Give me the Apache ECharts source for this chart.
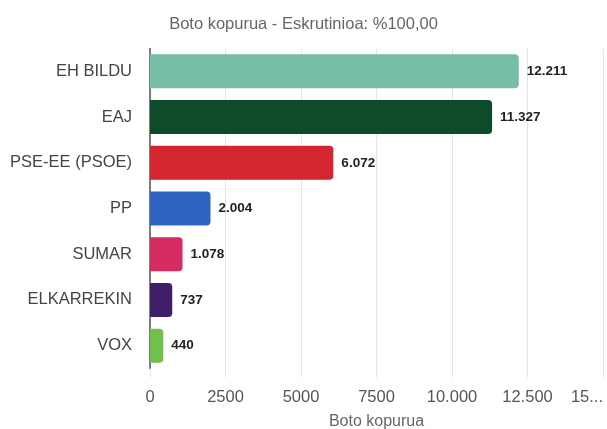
<!DOCTYPE html>
<html>
<head>
<meta charset="utf-8">
<script src="https://cdn.jsdelivr.net/npm/echarts@6/dist/echarts.min.js"></script>
<style>
  html, body { margin: 0; padding: 0; background: #fff; }
  #chart { width: 607px; height: 429px; }
</style>
</head>
<body>
<div id="chart"></div>
<script>
const titleText = 'Boto kopurua - Eskrutinioa: %100,00';
const axisName = 'Boto kopurua';
const categories = ['EH BILDU', 'EAJ', 'PSE-EE (PSOE)', 'PP', 'SUMAR', 'ELKARREKIN', 'VOX'];
const votes = [12211, 11327, 6072, 2004, 1078, 737, 440];
const voteLabels = ['12.211', '11.327', '6.072', '2.004', '1.078', '737', '440'];
const barColors = ['#76bfa5', '#0d4b2a', '#d3262f', '#2f64c2', '#d42b60', '#40206b', '#6fc04c'];
const tickValues = [0, 2500, 5000, 7500, 10000, 12500, 15000];
const tickLabels = ['0', '2500', '5000', '7500', '10.000', '12.500', '15...'];

const font = '"Liberation Sans", Arial, Helvetica, sans-serif';
const chart = echarts.init(document.getElementById('chart'), null, { renderer: 'canvas' });

chart.setOption({
  backgroundColor: '#ffffff',
  animation: false,
  title: {
    text: titleText,
    left: 'center',
    top: 11,
    textStyle: { fontFamily: font, fontSize: 16.5, fontWeight: 'normal', color: '#666' }
  },
  grid: { left: 150, right: 4, top: 48.5, bottom: 60.5, containLabel: false, outerBoundsMode: 'none' },
  xAxis: {
    type: 'value',
    min: 0,
    max: 15000,
    interval: 2500,
    name: axisName,
    nameLocation: 'middle',
    nameGap: 45,
    nameTextStyle: { fontFamily: font, fontSize: 16, color: '#666' },
    axisLine: { show: false },
    axisTick: { show: true, length: 9, lineStyle: { color: '#e6e6e6' } },
    splitLine: { show: true, lineStyle: { color: '#e6e6e6', width: 1 } },
    axisLabel: {
      fontFamily: font, fontSize: 16.5, color: '#555', margin: 20,
      alignMaxLabel: 'right',
      formatter: function (v) {
        const i = tickValues.indexOf(v);
        return i >= 0 ? tickLabels[i] : '';
      }
    }
  },
  yAxis: {
    type: 'category',
    inverse: true,
    data: categories,
    axisLine: { show: true, lineStyle: { color: '#555', width: 1.5 } },
    axisTick: { show: false },
    splitLine: { show: false },
    axisLabel: { fontFamily: font, fontSize: 16.5, color: '#444', margin: 18 }
  },
  series: [{
    type: 'bar',
    barWidth: 34,
    data: votes.map((v, i) => ({ value: v, itemStyle: { color: barColors[i] } })),
    itemStyle: { borderRadius: [0, 4, 4, 0] },
    label: {
      show: true,
      position: 'right',
      distance: 8,
      fontFamily: font,
      fontSize: 13.5,
      fontWeight: 'bold',
      color: '#222',
      formatter: function (p) { return voteLabels[p.dataIndex]; }
    }
  }]
});
</script>
</body>
</html>
